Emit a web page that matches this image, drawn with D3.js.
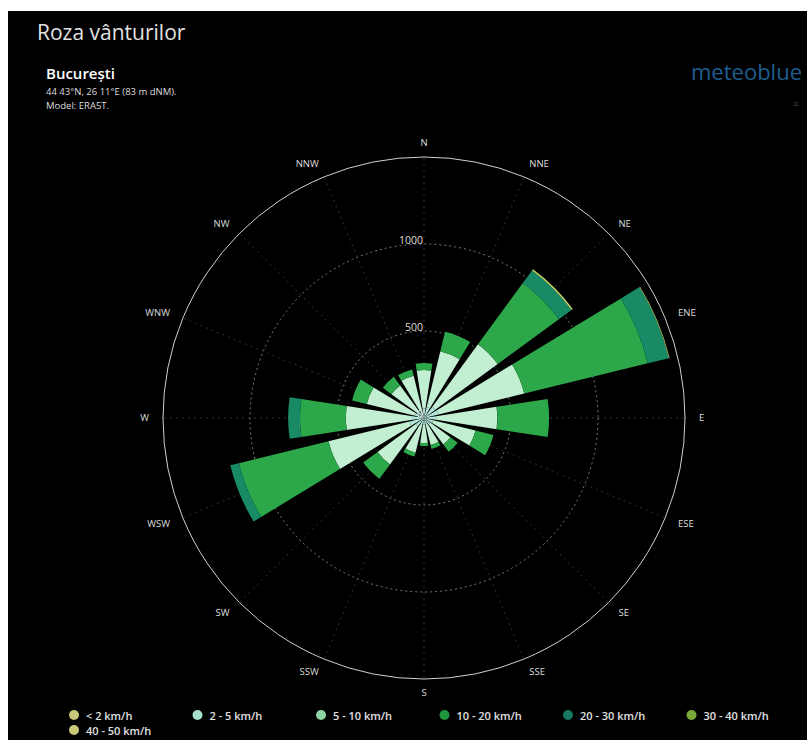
<!doctype html>
<html lang="ro">
<head>
<meta charset="UTF-8">
<title>Roza vânturilor</title>
<script src="https://d3js.org/d3.v7.min.js"></script>
<style>
body { margin: 0; background: #fff; }
svg text { font-family: "Open Sans", "Noto Sans", sans-serif; }
</style>
</head>
<body>
<div id="chart"></div>
<script>
// directions, clockwise from north
var directions = ["N","NNE","NE","ENE","E","ESE","SE","SSE","S","SSW","SW","WSW","W","WNW","NW","NNW"];
var speedBins = ["< 2 km/h","2 - 5 km/h","5 - 10 km/h","10 - 20 km/h","20 - 30 km/h","30 - 40 km/h","40 - 50 km/h"];

// hours per direction for each speed bin
var lt2    = [4, 5, 6, 6, 5, 4, 4, 3, 3, 3, 4, 6, 5, 4, 3, 3];
var k2_5   = [50, 60, 75, 80, 65, 50, 40, 35, 35, 40, 55, 80, 70, 55, 40, 40];
var k5_10  = [222, 330, 444, 507, 352, 251, 144, 122, 106, 162, 272, 479, 375, 280, 189, 207];
var k10_20 = [40, 116, 436, 731, 297, 106, 52, 23, 17, 23, 102, 530, 263, 86, 61, 37];
var k20_30 = [0, 0, 90, 125, 0, 0, 0, 0, 0, 0, 0, 51, 68, 0, 0, 0];
var k30_40 = [0, 0, 9, 4, 0, 0, 0, 0, 0, 0, 0, 0, 0, 0, 0, 0];
var k40_50 = [0, 0, 0, 0, 0, 0, 0, 0, 0, 0, 0, 0, 0, 0, 0, 0];

var radialTicks = [0, 500, 1000];
var outerValue = 1500;

var barColors = ["#d6d68c", "#b2e6da", "#c2eed2", "#2ca84a", "#198a66", "#c6cf66", "#c9c97a"];
var legendColors = ["#c9c97a", "#a8e0d0", "#8fd4a2", "#21963f", "#177a5e", "#7aa83c", "#c9c97a"];

var series = [lt2, k2_5, k5_10, k10_20, k20_30, k30_40, k40_50];

var width = 807, height = 740;
var cx = 424, cy = 418;

var svg = d3.select("#chart").append("svg")
    .attr("width", width)
    .attr("height", height);

svg.append("rect")
    .attr("x", 8).attr("y", 11)
    .attr("width", width - 8).attr("height", height - 11)
    .attr("fill", "#000");

// header
svg.append("text").attr("x", 37).attr("y", 40)
    .attr("font-size", 21).attr("fill", "#e2e2e2")
    .text("Roza vânturilor");
svg.append("text").attr("x", 46).attr("y", 79)
    .attr("font-size", 15).attr("font-weight", 600).attr("fill", "#fff")
    .text("București");
svg.append("text").attr("x", 46).attr("y", 95)
    .attr("font-size", 9.5).attr("fill", "#ddd")
    .text("44 43°N, 26 11°E (83 m dNM).");
svg.append("text").attr("x", 46).attr("y", 109)
    .attr("font-size", 9.5).attr("fill", "#ddd")
    .text("Model: ERA5T.");
svg.append("text").attr("x", 802).attr("y", 80)
    .attr("text-anchor", "end")
    .attr("font-size", 22).attr("fill", "#1d5f8f")
    .text("meteoblue");
svg.append("text").attr("x", 796).attr("y", 107)
    .attr("text-anchor", "middle")
    .attr("font-size", 9).attr("fill", "#444")
    .text("≡");

// scales
var r = d3.scaleLinear().domain([0, outerValue]).range([0, 261]);
var step = 2 * Math.PI / directions.length;
var angle = d3.scaleBand()
    .domain(directions)
    .range([-step / 2, 2 * Math.PI - step / 2])
    .paddingInner(0.22)
    .paddingOuter(0.11);

var g = svg.append("g").attr("transform", "translate(" + cx + "," + cy + ")");

// radial grid
directions.forEach(function(d, i) {
    var a = i * step;
    g.append("line")
        .attr("x1", 0).attr("y1", 0)
        .attr("x2", Math.sin(a) * r(outerValue))
        .attr("y2", -Math.cos(a) * r(outerValue))
        .attr("stroke", "#3c3c3c")
        .attr("stroke-width", 0.8)
        .attr("stroke-dasharray", "2,4");
});

radialTicks.filter(function(t) { return t > 0; }).forEach(function(t) {
    g.append("circle")
        .attr("r", r(t))
        .attr("fill", "none")
        .attr("stroke", "#8a8a8a")
        .attr("stroke-width", 0.9)
        .attr("stroke-dasharray", "2,3");
});
g.append("circle")
    .attr("r", r(outerValue))
    .attr("fill", "none")
    .attr("stroke", "#d0d0d0")
    .attr("stroke-width", 1);

// stacked wedges
var rows = directions.map(function(d, i) {
    var row = { dir: d };
    series.forEach(function(s, k) { row[k] = s[i]; });
    return row;
});
var stack = d3.stack().keys(d3.range(series.length));
var layers = stack(rows);

var arc = d3.arc()
    .innerRadius(function(d) { return r(d[0]); })
    .outerRadius(function(d) { return r(d[1]); })
    .startAngle(function(d) { return angle(d.data.dir); })
    .endAngle(function(d) { return angle(d.data.dir) + angle.bandwidth(); });

g.selectAll("g.layer")
    .data(layers)
    .enter().append("g")
    .attr("class", "layer")
    .attr("fill", function(d, k) { return barColors[k]; })
    .selectAll("path")
    .data(function(d) { return d.filter(function(p) { return p[1] > p[0]; }); })
    .enter().append("path")
    .attr("d", arc);

// radial tick labels
radialTicks.forEach(function(t) {
    g.append("text")
        .attr("x", -1)
        .attr("y", -r(t))
        .attr("text-anchor", "end")
        .attr("font-size", 10.5)
        .attr("fill", "#ddd")
        .text(t);
});

// direction labels
directions.forEach(function(d, i) {
    var a = i * step;
    var s = Math.sin(a);
    g.append("text")
        .attr("x", s * 275)
        .attr("y", -Math.cos(a) * 275)
        .attr("dy", "0.35em")
        .attr("text-anchor", Math.abs(s) < 0.01 ? "middle" : (s > 0 ? "start" : "end"))
        .attr("font-size", 9.5)
        .attr("fill", "#ddd")
        .text(d);
});

// legend
var legend = svg.append("g");
speedBins.forEach(function(b, k) {
    var col = k % 6, row = Math.floor(k / 6);
    var x = 74 + col * 123.5, y = 716 + row * 15;
    legend.append("circle")
        .attr("cx", x).attr("cy", y - 1)
        .attr("r", 5)
        .attr("fill", legendColors[k]);
    legend.append("text")
        .attr("x", x + 12).attr("y", y)
        .attr("dy", "0.32em")
        .attr("font-size", 11)
        .attr("font-weight", 600)
        .attr("fill", "#e0e0e0")
        .text(b);
});
</script>
</body>
</html>
